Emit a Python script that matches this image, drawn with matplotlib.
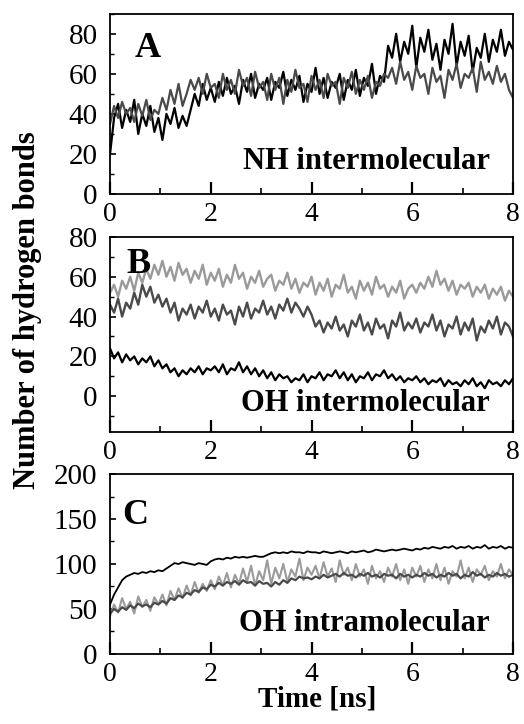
import numpy as np
import matplotlib
matplotlib.use('Agg')
import matplotlib.pyplot as plt
from matplotlib.ticker import MultipleLocator

plt.rcParams['font.family'] = ['Liberation Serif', 'DejaVu Serif']

# panel A: NH intermolecular
nhBlack = [20, 38, 45, 33, 42, 36, 47, 30, 40, 34, 44, 31, 38,
	27, 40, 35, 43, 33, 39, 34, 42,
	50, 44, 55, 47, 53,
	46, 56, 49, 58, 50, 54, 45, 57, 51, 60, 48, 55, 52, 58, 47, 56, 53, 61, 49, 57,
	52, 59, 46, 55, 51, 63, 50, 58, 48, 56, 53, 60, 47, 57, 52, 62, 49, 58, 54, 65, 50, 59, 56,
	74, 68, 80, 66, 76, 70, 84, 63, 78, 71, 82, 67, 75, 62, 77, 70, 85, 64, 76, 69, 79,
	61, 73, 68, 80, 66, 77, 71, 82, 69, 76, 72]
nhGray = [35, 44, 38, 46, 40, 43, 36, 45, 39, 47, 37, 42, 40,
	48, 42, 52, 45, 55, 44, 50, 57,
	52, 58, 50, 60, 53,
	55, 48, 60, 52, 57, 50, 62, 54, 58, 49, 61, 53, 56, 47, 60, 52, 58, 45, 57, 51,
	62, 53, 55, 46, 59, 52, 57, 48, 60, 54, 56, 45, 58, 53, 61, 50, 57, 52, 59, 48, 56, 54, 60,
	58, 63, 55, 66, 57, 61, 52, 64, 58, 60, 50, 63, 56, 59, 48, 62, 57, 65, 53, 60,
	58, 63, 51, 66, 57, 61, 55, 64, 56, 60, 52, 48]

# panel B: OH intermolecular
ohLight = [52, 56, 50, 58, 54, 60, 53, 62, 57, 64, 59, 66, 61,
	68, 60, 65, 58, 67, 61, 64, 57, 63, 59, 66, 56, 62,
	58, 64, 55, 61, 57, 66, 59, 62, 54, 60, 57, 63, 55, 59, 61, 53, 58, 56, 62, 54, 59, 52, 57, 55, 60,
	51, 57, 53, 59, 50, 56, 54, 61, 52, 55, 49, 58, 53, 57, 51, 60, 54, 56, 50, 55, 52, 58, 49, 54, 56,
	52, 57, 54, 60, 55, 63, 56, 59, 53, 58, 51, 56, 54, 57, 50, 55, 52, 56, 49, 54, 51, 55, 48, 53, 50]
ohDark = [46, 42, 49, 40, 47, 44, 52, 46, 56, 50, 55, 47, 51,
	45, 49, 42, 47, 38, 44, 41, 46, 39, 45, 42, 48, 40,
	44, 38, 46, 41, 43, 36, 45, 40, 47, 39, 44, 42, 48, 41, 45, 39, 46, 43, 49, 42, 47, 44, 40, 45, 41,
	35, 38, 32, 37, 34, 40, 33, 36, 30, 38, 35, 41, 33, 37, 31, 39, 34, 36, 29, 38, 35, 42, 33, 37, 34,
	39, 32, 37, 35, 41, 33, 38, 30, 36, 34, 40, 31, 37, 33, 39, 28, 35, 32, 38, 34, 40, 31, 37, 35, 30]
ohBlack = [24, 19, 22, 17, 21, 18, 20, 16, 19, 17, 20, 15, 18,
	14, 16, 12, 14, 10, 13, 11, 14, 12, 15, 11, 14, 13,
	15, 12, 16, 11, 14, 13, 17, 12, 15, 11, 14, 10, 13, 9, 12, 8, 11, 9, 10, 7, 9, 8, 11, 7, 10,
	9, 12, 8, 11, 10, 13, 9, 12, 8, 11, 7, 10, 9, 12, 8, 11, 10, 13, 9, 11, 8, 10, 7, 9, 8,
	10, 7, 9, 6, 8, 7, 9, 5, 8, 6, 7, 5, 8, 6, 9, 5, 7, 4, 8, 6, 7, 5, 8, 6, 9]

# panel C: OH intramolecular
intraBlack = [55, 66, 74, 82, 86, 88, 90, 89, 91, 90, 92, 91, 93,
	92, 95, 98, 101, 100, 102, 101, 100, 99, 101, 100, 99, 103,
	105, 106, 105, 107, 106, 108, 107, 108, 107, 108, 109, 108, 108, 110, 112, 113, 112, 113, 112, 114, 113, 113, 112, 114, 113,
	113, 112, 114, 113, 112, 113, 114, 113, 112, 114, 113, 114, 115, 113, 114, 116, 115, 114, 115, 116, 115, 116, 117, 116, 115,
	117, 116, 118, 117, 119, 118, 117, 119, 118, 120, 117, 119, 118, 120, 117, 119, 118, 121, 117, 119, 118, 120, 117, 119, 118]
intraDark = [45, 50, 47, 52, 49, 54, 51, 56, 53, 55, 52, 57, 55,
	59, 56, 62, 60, 65, 63, 68, 66, 71, 69, 74, 72, 77,
	75, 79, 76, 80, 78, 81, 77, 82, 79, 80, 76, 81, 78, 79, 75, 80, 77, 82, 79, 84, 82, 86, 84, 85, 83,
	86, 84, 88, 85, 87, 89, 86, 90, 87, 88, 85, 89, 87, 90, 86, 88, 85, 89, 87, 88, 84, 89, 86, 88, 85,
	88, 86, 90, 87, 89, 85, 88, 86, 90, 87, 89, 84, 88, 86, 91, 87, 89, 85, 88, 86, 90, 87, 89, 86, 88]
intraLight = [42, 55, 46, 62, 50, 58, 45, 64, 52, 60, 48, 63, 55,
	66, 54, 70, 60, 73, 62, 76, 65, 80, 68, 78, 70, 82,
	72, 86, 76, 90, 74, 88, 78, 95, 80, 98, 76, 92, 82, 104, 78, 96, 84, 100, 80, 94, 86, 106, 82, 96, 88,
	98, 84, 102, 86, 95, 80, 104, 88, 96, 82, 100, 86, 94, 78, 98, 84, 92, 80, 96, 86, 100, 82, 94, 78, 96,
	86, 98, 80, 94, 84, 100, 82, 96, 78, 92, 86, 104, 84, 96, 80, 94, 88, 98, 82, 92, 86, 100, 84, 94, 88]

tMax = 8.0
xTicks = [0, 2, 4, 6, 8]

LIGHT = '#9a9a9a'
DARK = '#4a4a4a'
BLACK = '#000000'

panels = [
	{'letter': 'A', 'label': 'NH intermolecular', 'ylim': (0, 90), 'yticks': [0, 20, 40, 60, 80], 'ystep': 10,
	 'series': [(nhBlack, BLACK, 1.6), (nhGray, DARK, 1.6)], 'pos': [0.21, 0.732, 0.769, 0.249],
	 'letterXY': (0.06, 0.81), 'labelY': 0.18},
	{'letter': 'B', 'label': 'OH intermolecular', 'ylim': (-18, 80), 'yticks': [0, 20, 40, 60, 80], 'ystep': 10,
	 'series': [(ohLight, LIGHT, 1.7), (ohDark, DARK, 1.7), (ohBlack, BLACK, 1.6)], 'pos': [0.21, 0.4033, 0.769, 0.2694],
	 'letterXY': (0.04, 0.86), 'labelY': 0.144},
	{'letter': 'C', 'label': 'OH intramolecular', 'ylim': (0, 200), 'yticks': [0, 50, 100, 150, 200], 'ystep': 25,
	 'series': [(intraLight, LIGHT, 1.5), (intraDark, DARK, 1.6), (intraBlack, BLACK, 1.3)], 'pos': [0.21, 0.0967, 0.769, 0.2486],
	 'letterXY': (0.03, 0.77), 'labelY': 0.167},
]

fig = plt.figure(figsize=(5.24, 7.24), dpi=100)

for p in panels:
	ax = fig.add_axes(p['pos'])
	for vals, col, lw in p['series']:
		t = np.linspace(0, tMax, len(vals))
		ax.plot(t, vals, color=col, lw=lw)

	ax.set_xlim(0, tMax)
	ax.set_ylim(*p['ylim'])
	ax.set_xticks(xTicks)
	ax.set_yticks(p['yticks'])
	ax.xaxis.set_minor_locator(MultipleLocator(1))
	ax.yaxis.set_minor_locator(MultipleLocator(p['ystep']))
	ax.tick_params(axis='x', which='major', direction='in', length=9, width=1.6, pad=6, labelsize=20)
	ax.tick_params(axis='x', which='minor', direction='in', length=4.5, width=1.2)
	ax.tick_params(axis='y', which='major', direction='in', length=4.5, width=1.2, pad=9, labelsize=21)
	ax.tick_params(axis='y', which='minor', direction='in', length=3, width=1.0)
	ax.tick_params(top=False, right=False, which='both')
	for s in ax.spines.values():
		s.set_linewidth(1.3)

	ax.text(p['letterXY'][0], p['letterXY'][1], p['letter'], transform=ax.transAxes,
		fontsize=26, fontweight='bold', va='center', ha='left')
	ax.text(0.943, p['labelY'], p['label'], transform=ax.transAxes,
		fontsize=22, fontweight='bold', va='center', ha='right')

fig.text(0.052, 0.572, 'Number of hydrogen bonds', rotation=90, fontsize=22,
	fontweight='bold', va='center', ha='center')
fig.text(0.605, 0.034, 'Time [ns]', fontsize=21, fontweight='bold', va='center', ha='center')

fig.savefig('out.png', dpi=100)
